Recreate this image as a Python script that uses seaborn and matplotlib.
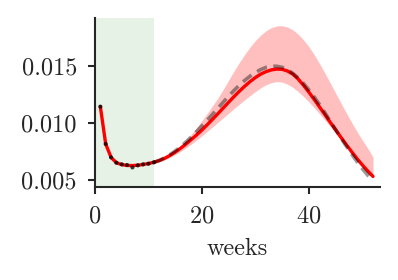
import numpy as np
import pandas as pd
import matplotlib
matplotlib.use("Agg")
import matplotlib.pyplot as plt
import seaborn as sns
from matplotlib.ticker import FormatStrFormatter

# observed data (weeks 1..11)
obs_weeks = list(range(1, 12))
obs_vals = [0.01143, 0.00816, 0.00699, 0.00652, 0.00638, 0.00632, 0.00611,
            0.00629, 0.00638, 0.00643, 0.00655]

# fitted model (weeks 1..52)
fit_weeks = list(range(1, 53))
fit_vals = [0.01143, 0.00816, 0.00699, 0.00652, 0.00635, 0.00628, 0.00627,
            0.00630, 0.00636, 0.00645, 0.00656, 0.00670, 0.00690, 0.00715,
            0.00745, 0.00778, 0.00815, 0.00855, 0.00895, 0.00938, 0.00985,
            0.01033, 0.01082, 0.01132, 0.01182, 0.01231, 0.01278, 0.01322,
            0.01362, 0.01398, 0.01428, 0.01450, 0.01465, 0.01472, 0.01470,
            0.01455, 0.01428, 0.01385, 0.01330, 0.01270, 0.01206, 0.01140,
            0.01073, 0.01006, 0.00940, 0.00874, 0.00810, 0.00748, 0.00688,
            0.00632, 0.00580, 0.00532]

# reference (dashed) curve, weeks 11..52
ref_weeks = list(range(11, 53))
ref_vals = [0.00656, 0.00672, 0.00695, 0.00722, 0.00755, 0.00792, 0.00833,
            0.00878, 0.00925, 0.00975, 0.01025, 0.01077, 0.01130, 0.01183,
            0.01235, 0.01285, 0.01331, 0.01373, 0.01410, 0.01442, 0.01468,
            0.01487, 0.01497, 0.01497, 0.01487, 0.01466, 0.01435, 0.01395,
            0.01346, 0.01290, 0.01228, 0.01161, 0.01090, 0.01017, 0.00943,
            0.00869, 0.00797, 0.00728, 0.00662, 0.00600, 0.00543, 0.00490]

# uncertainty band, weeks 11..52
band_weeks = list(range(11, 53))
band_upper = [0.00660, 0.00678, 0.00700, 0.00728, 0.00762, 0.00802, 0.00848,
              0.00900, 0.00958, 0.01020, 0.01085, 0.01152, 0.01220, 0.01295,
              0.01375, 0.01455, 0.01530, 0.01600, 0.01665, 0.01722, 0.01770,
              0.01808, 0.01835, 0.01850, 0.01852, 0.01840, 0.01815, 0.01778,
              0.01728, 0.01668, 0.01598, 0.01520, 0.01437, 0.01350, 0.01262,
              0.01175, 0.01088, 0.01005, 0.00925, 0.00850, 0.00780, 0.00700]
band_lower = [0.00650, 0.00662, 0.00678, 0.00698, 0.00722, 0.00750, 0.00782,
              0.00815, 0.00850, 0.00888, 0.00926, 0.00966, 0.01006, 0.01046,
              0.01086, 0.01126, 0.01165, 0.01203, 0.01240, 0.01275, 0.01308,
              0.01335, 0.01353, 0.01362, 0.01358, 0.01340, 0.01312, 0.01275,
              0.01232, 0.01185, 0.01134, 0.01080, 0.01025, 0.00970, 0.00914,
              0.00858, 0.00800, 0.00742, 0.00686, 0.00632, 0.00578, 0.00520]

yticks = [0.005, 0.010, 0.015]
xticks = [0, 20, 40]
train_end = 11

sns.set_style("ticks")
plt.rcParams["font.family"] = ["cmr10", "DejaVu Serif"]
plt.rcParams["axes.formatter.use_mathtext"] = True
plt.rcParams["font.size"] = 17.5

fig = plt.figure(figsize=(3.98, 2.80), dpi=100)
ax = fig.add_axes([0.2387, 0.332, 0.716, 0.604])

ax.axvspan(0, train_end, color="green", alpha=0.1, lw=0, zorder=0)
ax.fill_between(band_weeks, band_lower, band_upper, color="red", alpha=0.25, lw=0, zorder=1)
sns.lineplot(x=fit_weeks, y=fit_vals, color="red", lw=2.4, ax=ax, zorder=2)
sns.lineplot(x=ref_weeks, y=ref_vals, color="black", alpha=0.4, lw=2.6,
             ax=ax, zorder=3, linestyle=(0, (3, 1.8)))
sns.scatterplot(x=obs_weeks, y=obs_vals, color="black", s=9, alpha=0.75,
                edgecolor="none", ax=ax, zorder=4)

ax.set_xlim(0, 53.3)
ax.set_ylim(0.00439, 0.0192)
ax.set_xticks(xticks)
ax.set_yticks(yticks)
ax.yaxis.set_major_formatter(FormatStrFormatter("%.3f"))
ax.set_xlabel("weeks", labelpad=8)
ax.set_ylabel("")
sns.despine(ax=ax)
for s in ["left", "bottom"]:
    ax.spines[s].set_linewidth(1.5)
ax.tick_params(width=1.5, length=5, pad=8)

fig.savefig("out.png", dpi=100)
